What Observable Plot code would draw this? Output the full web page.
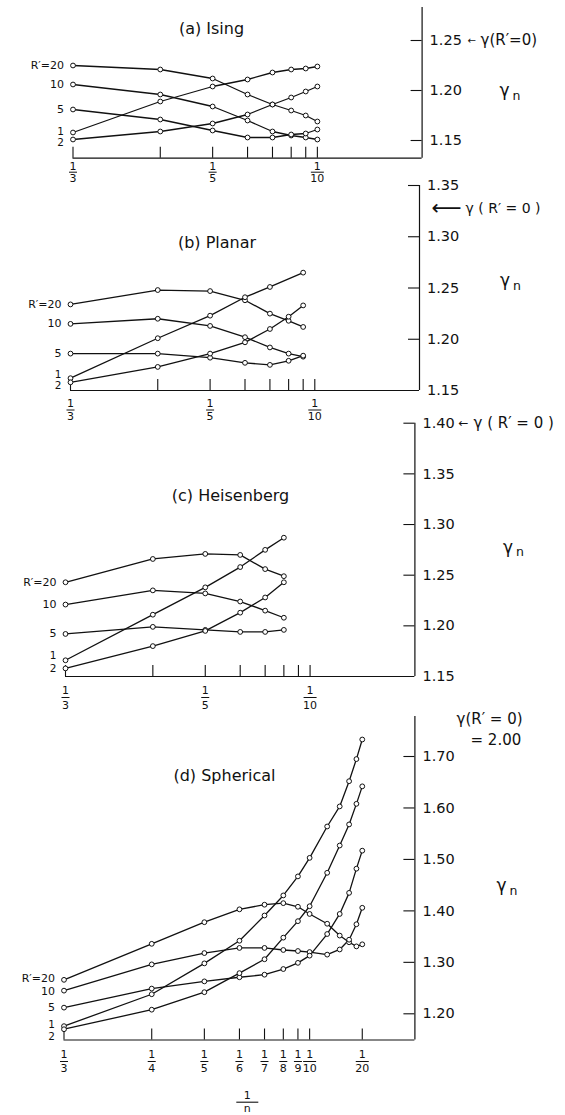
<!DOCTYPE html>
<html><head><meta charset="utf-8">
<script src="https://cdn.jsdelivr.net/npm/d3@7"></script>
<script src="https://cdn.jsdelivr.net/npm/@observablehq/plot@0.6"></script>
<style>
html,body{margin:0;padding:0;background:#fff;}
#chart{position:relative;width:565px;height:1115px;overflow:hidden;background:#fff;}
#chart svg{position:absolute;left:0;top:0;}
</style></head><body><div id="chart"></div>
<script>
// ---------- data ----------
const rPrimes = [20, 10, 5, 1, 2];

const isingN   = [3, 4, 5, 6, 7, 8, 9, 10];
const isingR20 = [1.225, 1.221, 1.212, 1.196, 1.186, 1.180, 1.175, 1.169];
const isingR10 = [1.206, 1.196, 1.184, 1.170, 1.159, 1.155, 1.153, 1.151];
const isingR5  = [1.181, 1.171, 1.160, 1.153, 1.153, 1.156, 1.157, 1.161];
const isingR1  = [1.158, 1.189, 1.204, 1.211, 1.218, 1.221, 1.222, 1.224];
const isingR2  = [1.151, 1.159, 1.167, 1.176, 1.186, 1.193, 1.199, 1.204];

const planarN   = [3, 4, 5, 6, 7, 8, 9];
const planarR20 = [1.234, 1.248, 1.247, 1.238, 1.225, 1.218, 1.212];
const planarR10 = [1.215, 1.220, 1.213, 1.202, 1.192, 1.186, 1.183];
const planarR5  = [1.186, 1.186, 1.182, 1.177, 1.175, 1.179, 1.184];
const planarR1  = [1.162, 1.201, 1.223, 1.241, 1.251, null, 1.265];
const planarR2  = [1.158, 1.173, 1.186, 1.197, 1.210, 1.222, 1.233];

const heisN   = [3, 4, 5, 6, 7, 8];
const heisR20 = [1.243, 1.266, 1.271, 1.270, 1.256, 1.249];
const heisR10 = [1.221, 1.235, 1.232, 1.224, 1.215, 1.208];
const heisR5  = [1.192, 1.199, 1.196, 1.194, 1.194, 1.196];
const heisR1  = [1.166, 1.211, 1.238, 1.258, 1.275, 1.287];
const heisR2  = [1.158, 1.180, 1.195, 1.213, 1.228, 1.243];

const spherN   = [3, 4, 5, 6, 7, 8, 9, 10, 12, 14, 16, 18, 20];
const spherR20 = [1.266, 1.336, 1.378, 1.403, 1.412, 1.415, 1.408, 1.394, 1.375, 1.352, 1.339, 1.331, 1.335];
const spherR10 = [1.245, 1.296, 1.318, 1.328, 1.328, 1.324, 1.322, 1.320, 1.315, 1.325, 1.344, 1.374, 1.406];
const spherR5  = [1.212, 1.249, 1.263, 1.271, 1.276, 1.287, 1.299, 1.313, 1.355, 1.394, 1.435, 1.482, 1.517];
const spherR1  = [1.176, 1.238, 1.298, 1.342, 1.391, 1.430, 1.467, 1.503, 1.564, 1.603, 1.652, 1.695, 1.733];
const spherR2  = [1.170, 1.208, 1.242, 1.279, 1.306, 1.348, 1.380, 1.409, 1.474, 1.527, 1.568, 1.608, 1.642];

const titles = ["(a) Ising", "(b) Planar", "(c) Heisenberg", "(d) Spherical"];
const gammaR0 = [1.25, 1.328, 1.40, 2.00];

const xTicksABC  = [3, 4, 5, 6, 7, 8, 9, 10];
const xLabelsABC = [3, 5, 10];
const xTicksD    = [3, 4, 5, 6, 7, 8, 9, 10, 20];

const yTicksA  = [1.15, 1.20, 1.25];
const yLabelsA = [1.15, 1.20, 1.25];
const yTicksB  = [1.20, 1.25, 1.30, 1.35];
const yLabelsB = [1.15, 1.20, 1.25, 1.30, 1.35];
const yTicksC  = [1.20, 1.25, 1.30, 1.35, 1.40];
const yLabelsC = [1.15, 1.20, 1.25, 1.30, 1.35, 1.40];
const yTicksD  = [1.20, 1.30, 1.40, 1.50, 1.60, 1.70];
const yLabelsD = [1.20, 1.30, 1.40, 1.50, 1.60, 1.70];

// ---------- layout (page pixels) ----------
const W = 565, H = 1115;
const INK = "#111";
const FONT = "'DejaVu Sans', sans-serif";
const fmt = d3.format(".2f");
const bar = w => ({draw(ctx) { ctx.moveTo(-w / 2, 0); ctx.lineTo(w / 2, 0); }});

const panels = [
  {n: isingN, vals: [isingR20, isingR10, isingR5, isingR1, isingR2],
   xTicks: xTicksABC, xLabels: xLabelsABC, yTicks: yTicksA, yLabels: yLabelsA,
   lay: {L: 72.5, R: 421.6, T: 7, B: 157.7, v1: 1.25, p1: 40, v2: 1.15, p2: 140},
   frac: [8.5, 14, 20], shifts: {20: 0, 10: 0, 5: 0, 1: -1, 2: 3},
   title: [211, 28], gam: [504, 90],
   arrow: {text: "←", size: 10, dx: 49.5}, note: {text: "γ(R′=0)", dx: 58.4, size: 15, ls: 1.4}},
  {n: planarN, vals: [planarR20, planarR10, planarR5, planarR1, planarR2],
   xTicks: xTicksABC, xLabels: xLabelsABC, yTicks: yTicksB, yLabels: yLabelsB,
   lay: {L: 70, R: 419, T: 185, B: 390, v1: 1.35, p1: 185, v2: 1.15, p2: 390},
   frac: [13, 19.5, 26], shifts: {20: 0, 10: 0, 5: 0, 1: -4, 2: 3.5},
   title: [216.5, 242.5], gam: [504.5, 280],
   arrow: {text: "⟵", size: 21, dx: 27}, note: {text: "γ ( R′ = 0 )", dx: 46, size: 14, ls: 0}},
  {n: heisN, vals: [heisR20, heisR10, heisR5, heisR1, heisR2],
   xTicks: xTicksABC, xLabels: xLabelsABC, yTicks: yTicksC, yLabels: yLabelsC,
   lay: {L: 65, R: 414.4, T: 422.7, B: 676, v1: 1.40, p1: 422.7, v2: 1.15, p2: 676},
   frac: [14, 21, 28.5], shifts: {20: 0, 10: 0, 5: 0, 1: -5, 2: 0.5},
   title: [230, 495], gam: [507.5, 546.7],
   arrow: {text: "←", size: 12, dx: 48.6}, note: {text: "γ ( R′ = 0 )", dx: 58.6, size: 15, ls: 0.9}},
  {n: spherN, vals: [spherR20, spherR10, spherR5, spherR1, spherR2],
   xTicks: xTicksD, xLabels: xTicksD, yTicks: yTicksD, yLabels: yLabelsD,
   lay: {L: 63.5, R: 414.4, T: 716, B: 1039.5, v1: 1.70, p1: 756, v2: 1.20, p2: 1013.3},
   frac: [14, 21.5, 28], shifts: {20: -1.5, 10: 1, 5: 0, 1: -1.5, 2: 7},
   title: [224, 775.5], gam: [501, 885],
   arrow: null, note: null}
];

const chart = document.getElementById("chart");

panels.forEach((cfg, pi) => {
  const {L, R, T, B, v1, p1, v2, p2} = cfg.lay;
  const k = (p2 - p1) / (v1 - v2);
  const yMin = v2 - (B - p2) / k;
  const yMax = v1 + (p1 - T) / k;
  const fw = R - L, fh = B - T;

  const rows = [];
  cfg.vals.forEach((vals, si) => vals.forEach((g, i) => {
    if (g != null) rows.push({n: cfg.n[i], r: rPrimes[si], g});
  }));
  const firsts = cfg.vals.map((vals, si) => ({n: cfg.n[0], r: rPrimes[si], g: vals[0]}));
  const X = d => 1 / d.n;
  const mid = {textAnchor: "middle", lineAnchor: "middle"};
  const at = (px, py) => ({frameAnchor: "top-left", dx: px - L, dy: py - T, ...mid});
  const [fNum, fBar, fDen] = cfg.frac;

  const marks = [
    Plot.ruleY([yMin], {stroke: INK, strokeWidth: 1.2}),
    Plot.ruleX([0], {stroke: INK, strokeWidth: 1.2}),
    Plot.tickX(cfg.xTicks, {x: n => 1 / n, insetTop: fh - 11, stroke: INK, strokeWidth: 1.1}),
    Plot.tickY(cfg.yTicks, {y: d => d, insetLeft: fw - 11, stroke: INK, strokeWidth: 1.1}),
    Plot.text(cfg.yLabels, {y: d => d, frameAnchor: "right", dx: 7.5, textAnchor: "start",
      lineAnchor: "middle", text: fmt, fontSize: 14.5, fill: INK}),
    // fraction tick labels 1/n
    Plot.text(cfg.xLabels, {x: n => 1 / n, frameAnchor: "bottom", dy: fNum, ...mid,
      text: () => "1", fontSize: 11, fill: INK}),
    Plot.dot(cfg.xLabels.filter(n => n < 10), {x: n => 1 / n, frameAnchor: "bottom", dy: fBar,
      symbol: bar(8), fill: "none", stroke: INK, strokeWidth: 1}),
    Plot.dot(cfg.xLabels.filter(n => n >= 10), {x: n => 1 / n, frameAnchor: "bottom", dy: fBar,
      symbol: bar(13), fill: "none", stroke: INK, strokeWidth: 1}),
    Plot.text(cfg.xLabels, {x: n => 1 / n, frameAnchor: "bottom", dy: fDen, ...mid,
      text: n => String(n), fontSize: 11, fill: INK}),
    // series
    Plot.line(rows, {x: X, y: "g", z: "r", stroke: INK, strokeWidth: 1.3}),
    Plot.dot(rows, {x: X, y: "g", r: 2.4, fill: "white", stroke: INK, strokeWidth: 1}),
    // title, gamma_n
    Plot.text([titles[pi]], {...at(cfg.title[0], cfg.title[1]), text: d => d,
      fontSize: 16, fill: INK, letterSpacing: 1}),
    Plot.text(["γ"], {...at(cfg.gam[0], cfg.gam[1]), text: d => d, fontSize: 17, fill: INK}),
    Plot.text(["n"], {...at(cfg.gam[0] + 12, cfg.gam[1] + 5), text: d => d, fontSize: 12.5, fill: INK})
  ];

  // R' labels, one mark per series so each can be nudged vertically
  firsts.forEach(d => {
    marks.push(Plot.text([d], {x: X, y: "g", dx: -9, dy: cfg.shifts[d.r], textAnchor: "end",
      lineAnchor: "middle", text: d => d.r === 20 ? "R′=20" : String(d.r),
      fontSize: d.r <= 2 ? 10.5 : 11, fill: INK}));
  });

  if (cfg.arrow) {
    marks.push(Plot.text([gammaR0[pi]], {y: d => d, frameAnchor: "right", dx: cfg.arrow.dx, ...mid,
      text: () => cfg.arrow.text, fontSize: cfg.arrow.size, fill: INK}));
    marks.push(Plot.text([gammaR0[pi]], {y: d => d, frameAnchor: "right", dx: cfg.note.dx,
      textAnchor: "start", lineAnchor: "middle", text: () => cfg.note.text,
      fontSize: cfg.note.size, fill: INK, letterSpacing: cfg.note.ls}));
  } else {
    marks.push(Plot.text([gammaR0[pi]], {frameAnchor: "top-right", dx: 41.6, dy: 2.5,
      textAnchor: "start", lineAnchor: "middle", text: () => "γ(R′ = 0)", fontSize: 15,
      fill: INK, letterSpacing: 0.4}));
    marks.push(Plot.text([gammaR0[pi]], {frameAnchor: "top-right", dx: 55.6, dy: 23.5,
      textAnchor: "start", lineAnchor: "middle", text: d => "= " + fmt(d), fontSize: 15,
      fill: INK, letterSpacing: 0.3}));
    marks.push(Plot.text(["1"], {...at(246.8, 1094.8), text: d => d, fontSize: 11, fill: INK}));
    marks.push(Plot.dot(["bar"], {frameAnchor: "top-left", dx: 246.8 - L, dy: 1101.7 - T,
      symbol: bar(22), fill: "none", stroke: INK, strokeWidth: 1.1}));
    marks.push(Plot.text(["n"], {...at(246.8, 1107.8), text: d => d, fontSize: 11, fill: INK}));
  }

  const svg = Plot.plot({
    width: W, height: H,
    marginLeft: L, marginRight: W - R, marginTop: T, marginBottom: H - B,
    x: {domain: [1 / 3, 0], axis: null},
    y: {domain: [yMin, yMax], axis: null},
    style: {background: "transparent", fontFamily: FONT, overflow: "visible", color: INK},
    marks
  });
  chart.appendChild(svg);
});
</script></body></html>
